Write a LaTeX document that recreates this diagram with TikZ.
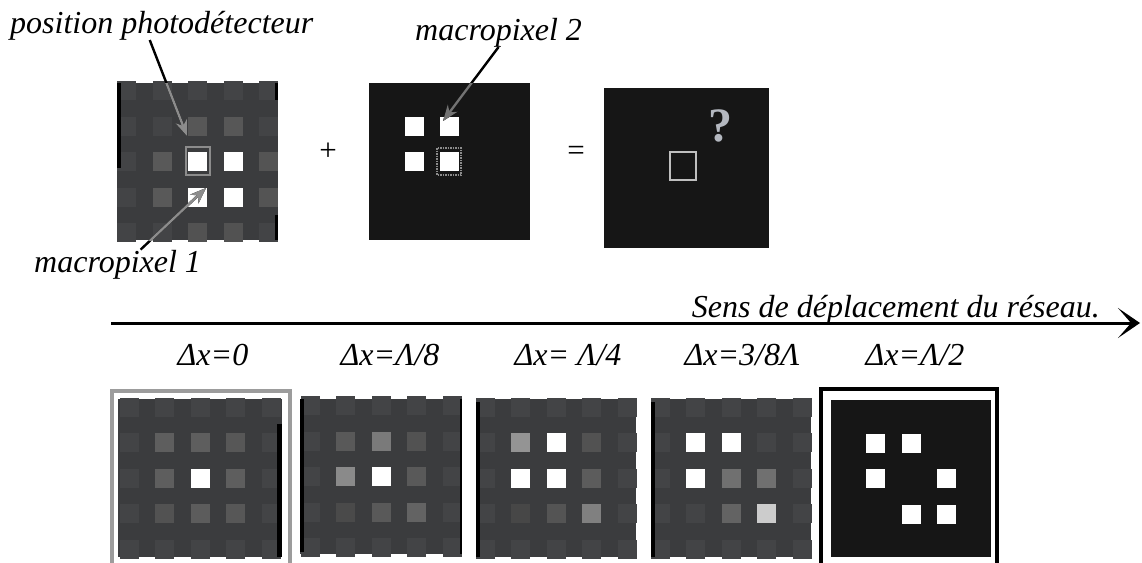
\documentclass[tikz,border=0pt]{standalone}
\usepackage{fontspec}
\setmainfont{Liberation Serif}
\usetikzlibrary{arrows.meta,calc}
\definecolor{plategray}{HTML}{3B3C3E}
\definecolor{plateblack}{HTML}{161616}
\definecolor{ptrgray}{HTML}{8C8C8C}
\definecolor{qgray}{HTML}{B4B8C0}
\definecolor{framegray}{HTML}{9C9C9C}
\definecolor{dimgray}{HTML}{434446}

\begin{document}
\begin{tikzpicture}[x=1pt,y=-1pt,
    lbl/.style={font=\fontsize{32}{37}\selectfont\itshape,inner sep=0pt},
    sign/.style={font=\fontsize{31}{36}\selectfont,inner sep=0pt},
    ptr/.style={line width=2.4pt,-{Stealth[length=16pt,width=12pt]}},
    dimsq/.style={dimgray}]
\useasboundingbox (0,0) rectangle (1142,562);

% top row: the two gratings and their sum
\fill[plategray] (117,83) rectangle (278,240);
\begin{scope}[shift={(197.5,161.5)}]
  \foreach \i in {-2,...,2} \foreach \j in {-2,...,2}
    \fill[dimsq] ({35.5*(\i)-9.5},{35.5*(\j)-9.5}) rectangle ++(19,19);
  \foreach \i/\j/\g in {-1/0/65,-1/1/65,0/-1/66,1/-1/66,2/0/67,2/1/67,0/2/68,1/2/68,0/0/0,1/0/0,0/1/0,1/1/0}
    \fill[black!\g] ({35.5*(\i)-9.5},{35.5*(\j)-9.5}) rectangle ++(19,19);
  \draw[ptrgray,line width=2pt] (-11.5,-15) rectangle (12.5,13);
\end{scope}
\fill[black] (117,83) rectangle (121,168);
\fill[black] (275,83) rectangle (278,100);
\fill[black] (275,215) rectangle (278,240);

\fill[plateblack] (369,83) rectangle (530,240);
\begin{scope}[shift={(449.5,161.5)}]
  \foreach \i/\j in {-1/-1,0/-1,-1/0,0/0}
    \fill[white] ({35.5*(\i)-9.5},{35.5*(\j)-9.5}) rectangle ++(19,19);
  \draw[black!45,densely dotted,line width=1.5pt] (-12.5,-13.5) rectangle (11.5,13.5);
\end{scope}

\fill[plateblack] (604,88) rectangle (769,248);
\draw[black!25,line width=1.5pt] (670,152) rectangle (696,180);
\node[font=\fontsize{48}{50}\selectfont\bfseries,text=qgray,inner sep=0pt] (qmark) at (720,126) {?};

\node[sign] (plus) at (328,152) {+};
\node[sign] (eq) at (576,153) {=};

\node[lbl,anchor=base west] (lblpos) at (10,33) {position photodétecteur};
\node[lbl,anchor=base west] (lblmpa) at (34,272) {macropixel 1};
\node[lbl,anchor=base west] (lblmpb) at (415,40) {macropixel 2};
\coordinate (postip) at (187,136);
\coordinate (mpatip) at (206,188);
\coordinate (mpbtip) at (443,121);

\draw[ptr] ([xshift=-12pt]lblpos.south) -- (postip);
\draw[ptr] ([xshift=23pt]lblmpa.north) -- (mpatip);
\draw[ptr] (lblmpb.south) -- (mpbtip);
\begin{scope}
  \clip (117,83) rectangle (278,240);
  \draw[ptr,ptrgray] ([xshift=-12pt]lblpos.south) -- (postip);
  \draw[ptr,ptrgray] ([xshift=23pt]lblmpa.north) -- (mpatip);
\end{scope}
\begin{scope}
  \clip (369,83) rectangle (530,240);
  \draw[ptr,black!55] (lblmpb.south) -- (mpbtip);
\end{scope}

% direction of the grating
\coordinate (dirstart) at (111,323);
\coordinate (dirend) at (1140,323);
\draw[line width=3pt,-{Stealth[length=22pt,width=30pt,inset=13pt]}] (dirstart) -- (dirend);
\node[lbl,anchor=base east] (dirlbl) at (1100,317) {Sens de déplacement du réseau.};

% bottom row: the shifts
\node[lbl,anchor=base] (dx0) at (213,365) {Δx=0};
\node[lbl,anchor=base] (dx1) at (390,365) {Δx=Λ/8};
\node[lbl,anchor=base] (dx2) at (568,365) {Δx= Λ/4};
\node[lbl,anchor=base] (dx3) at (742,365) {Δx=3/8Λ};
\node[lbl,anchor=base] (dx4) at (915,365) {Δx=Λ/2};

\draw[framegray,line width=4pt] (112,391) rectangle (290,566);
\fill[plategray] (118,399) rectangle (282,557);
\begin{scope}[shift={(200,478)}]
  \foreach \i in {-2,...,2} \foreach \j in {-2,...,2}
    \fill[dimsq] ({35.5*(\i)-9.5},{35.5*(\j)-9.5}) rectangle ++(19,19);
  \foreach \i/\j/\g in {-1/-1/63,0/-1/63,1/-1/66,-1/0/63,1/0/63,-1/1/68,0/1/64,1/1/66,0/0/0}
    \fill[black!\g] ({35.5*(\i)-9.5},{35.5*(\j)-9.5}) rectangle ++(19,19);
\end{scope}
\fill[black] (277,424) rectangle (282,557);

\fill[plategray] (300,399) rectangle (462,554);
\begin{scope}[shift={(381,476.5)}]
  \foreach \i in {-2,...,2} \foreach \j in {-2,...,2}
    \fill[dimsq] ({35.5*(\i)-9.5},{35.5*(\j)-9.5}) rectangle ++(19,19);
  \foreach \i/\j/\g in {-1/-1/65,0/-1/52,1/-1/68,-1/0/46,1/0/65,-1/1/71,0/1/65,1/1/61,0/0/0}
    \fill[black!\g] ({35.5*(\i)-9.5},{35.5*(\j)-9.5}) rectangle ++(19,19);
\end{scope}
\fill[black] (300,399) rectangle (304,552);
\fill[black] (460,399) rectangle (462,554);

\fill[plategray] (476,399) rectangle (636,557);
\begin{scope}[shift={(556,478)}]
  \foreach \i in {-2,...,2} \foreach \j in {-2,...,2}
    \fill[dimsq] ({35.5*(\i)-9.5},{35.5*(\j)-9.5}) rectangle ++(19,19);
  \foreach \i/\j/\g in {-1/-1/42,0/-1/0,1/-1/68,-1/0/0,0/0/0,1/0/64,-1/1/72,0/1/67,1/1/50}
    \fill[black!\g] ({35.5*(\i)-9.5},{35.5*(\j)-9.5}) rectangle ++(19,19);
\end{scope}
\fill[black] (476,402) rectangle (480,557);

\fill[plategray] (651,399) rectangle (811,557);
\begin{scope}[shift={(731,478)}]
  \foreach \i in {-2,...,2} \foreach \j in {-2,...,2}
    \fill[dimsq] ({35.5*(\i)-9.5},{35.5*(\j)-9.5}) rectangle ++(19,19);
  \foreach \i/\j/\g in {-1/-1/0,0/-1/0,-1/0/0,0/0/56,1/0/56,0/1/61,1/1/20}
    \fill[black!\g] ({35.5*(\i)-9.5},{35.5*(\j)-9.5}) rectangle ++(19,19);
\end{scope}
\fill[black] (651,402) rectangle (655,557);

\draw[black,line width=3.5pt] (821,389) rectangle (997,566);
\fill[plateblack] (831,400) rectangle (991,557);
\begin{scope}[shift={(911,478.5)}]
  \foreach \i/\j in {-1/-1,0/-1,-1/0,1/0,0/1,1/1}
    \fill[white] ({35.5*(\i)-9.5},{35.5*(\j)-9.5}) rectangle ++(19,19);
\end{scope}
\end{tikzpicture}
\end{document}
